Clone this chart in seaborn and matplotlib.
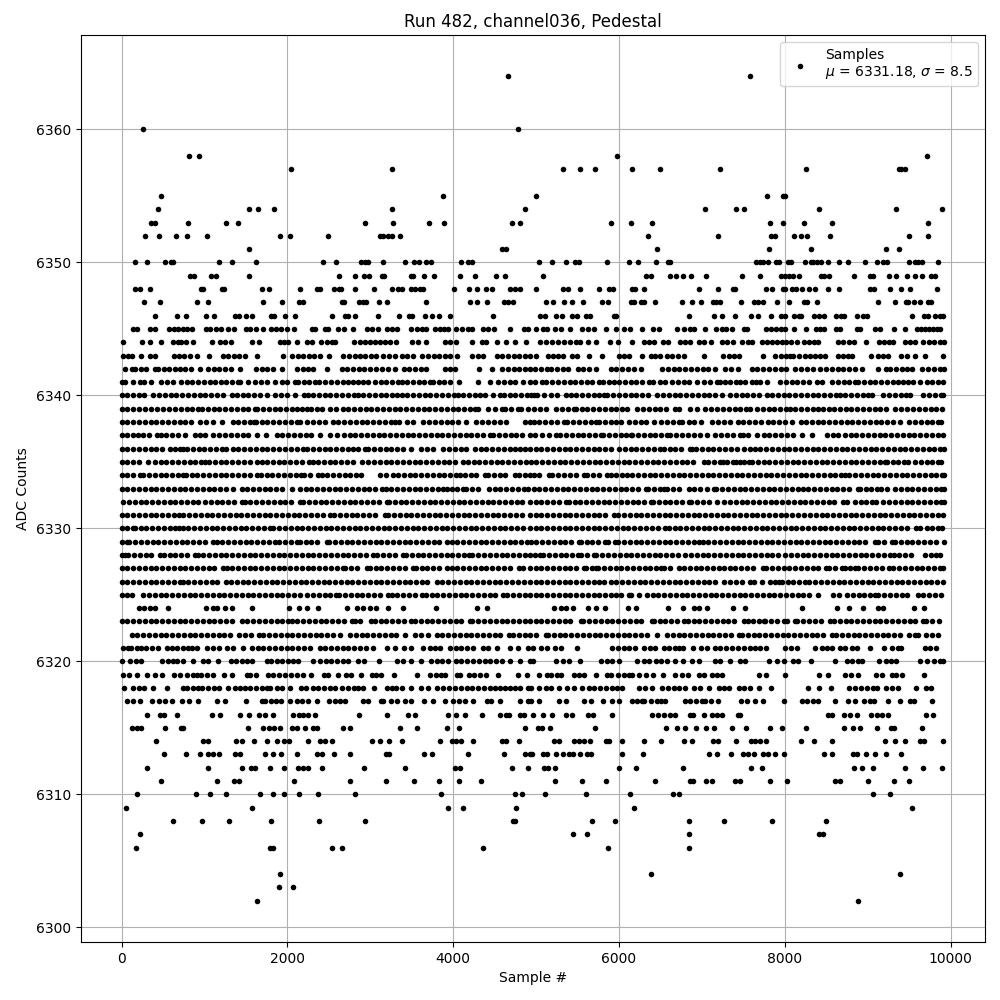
import matplotlib
matplotlib.use("Agg")
import matplotlib.pyplot as plt
import pandas as pd
import seaborn as sns

# sample numbers, one list per ADC level
s6364 = [4663, 7576]
s6360 = [261, 4784]
s6358 = [816, 937, 5976, 9717]
s6357 = [2046, 3264, 5326, 5531, 5711, 6156, 6493, 7215, 8262, 9376, 9408, 9445]
s6355 = [478, 3879, 5001, 7780, 7981, 8005]
s6354 = [442, 1540, 1648, 1841, 3264, 4868, 7035, 7408, 7504, 8418, 9348, 9898]
s6353 = [354, 406, 804, 1262, 1407, 2939, 3276, 3710, 3891, 4711, 4808, 5904, 6144, 6397, 7817, 7973, 8238, 8575, 9729]
s6352 = [285, 454, 659, 792, 1033, 1913, 2034, 2492, 3115, 3148, 3216, 3264, 3361, 6349, 7191, 7829, 7881, 8117, 8201, 8273, 8550, 9501, 9729]
s6351 = [1540, 4587, 4635, 6457, 7805, 8322, 9224, 9380]
s6350 = [165, 310, 527, 599, 623, 1178, 1335, 1624, 2432, 2589, 2890, 2939, 2975, 3156, 3421, 3530, 3590, 3674, 3735, 4096, 4181, 4229,
         5038, 5194, 5362, 5471, 5519, 5856, 6120, 6229, 6445, 6589, 6613, 7648, 7696, 7732, 7800, 7889, 7925, 8045, 8081, 8250, 8314, 8346, 8394, 8442, 8526, 8659, 8767, 8971, 9116, 9188, 9236, 9501, 9573, 9609, 9657, 9850]
s6349 = [824, 872, 1081, 1142, 1540, 2625, 2818, 2927, 2987, 3144, 3168, 3493, 3518, 3650, 3771, 4084, 4265, 4519, 4627,
         5086, 6325, 6385, 6613, 6686, 6770, 6866, 7047, 7480, 7696, 7949, 7997, 8057, 8105, 8177, 8442, 8478, 8538, 8839, 9032, 9068, 9260, 9348, 9477, 9573, 9661, 9765, 9814]
s6348 = [165, 225, 346, 961, 985, 1214, 1238, 1696, 1781, 2155, 2360, 2396, 2565, 2625, 2649, 2818, 3047, 3264, 3337, 3385, 3493, 3542, 3602, 3638, 4012, 4193, 4289, 4398, 4470, 4687, 4748, 4808,
         5001, 5326, 5386, 5531, 5759, 5880, 5928, 6156, 6192, 6301, 6962, 7191, 7371, 7395, 7768, 7841, 7973, 8009, 8093, 8141, 8214, 8298, 8370, 8526, 8659, 9032, 9080, 9272, 9404, 9513, 9838]
s6347 = [273, 466, 913, 1045, 1708, 1938, 2143, 2191, 2661, 2685, 2866, 2915, 2951, 3107, 3204, 3674, 4205, 4289, 4410, 4615, 4663, 4724,
         5122, 5206, 5338, 5435, 5567, 5796, 5868, 6144, 6180, 6265, 6301, 6433, 6758, 6878, 6986, 7131, 7167, 7215, 7468, 7624, 7672, 7732, 7901, 8057, 8238, 8274, 8394, 9128, 9332, 9465, 9489, 9561, 9633, 9729, 9765]
s6346 = [406, 671, 780, 1021, 1118, 1371, 1419, 1503, 1576, 1805, 1841, 1974, 2094, 2541, 2697, 2734, 2818, 3095, 3349, 3469, 3505, 3662, 3747, 3831, 3964, 4482,
         5050, 5110, 5242, 5314, 5435, 5495, 5603, 5651, 5940, 5964, 6842, 7143, 7239, 7395, 7588, 7672, 7829, 7949, 8009, 8117, 8177, 8201, 8358, 8418, 8478, 8622, 8683, 8719, 8875, 8947, 8995, 9537, 9681, 9729, 9814, 9874, 9910]
s6345 = [141, 189, 346, 406, 575, 635, 683, 744, 792, 852, 1021, 1069, 1142, 1202, 1286, 1359, 1503, 1552, 1624, 1708, 1805, 1865, 1926, 1990, 2082, 2300, 2336, 2456, 2492, 2613, 2685, 2794, 2963, 3023, 3095, 3204, 3264, 3325, 3489, 3566, 3626, 3674, 3783, 3843, 3891, 3940, 4036, 4108, 4181, 4229, 4362, 4422, 4494, 4687, 4856, 4904,
         5001, 5086, 5134, 5230, 5302, 5411, 5555, 5627, 5699, 5844, 5964, 6060, 6132, 6277, 6409, 6481, 6698, 6782, 6854, 6902, 7035, 7167, 7239, 7287, 7359, 7504, 7540, 7768, 7829, 7889, 7949, 8009, 8117, 8262, 8382, 8430, 8478, 8622, 8671, 8875, 8911, 9092, 9152, 9320, 9453, 9597, 9645, 9693, 9741, 9789, 9838, 9874]
s6344 = [16, 249, 342, 478, 623, 683, 720, 780, 864, 1093, 1190, 1250, 1323, 1576, 1660, 1913, 1962, 2010, 2118, 2239, 2300, 2408, 2480, 2541, 2577, 2806, 2878, 2939, 2999, 3059, 3120, 3180, 3240, 3313, 3505, 3578, 3674, 3903, 3964, 4036, 4229, 4350, 4398, 4531, 4639, 4748, 4880,
         5050, 5122, 5194, 5266, 5338, 5411, 5483, 5531, 5627, 5723, 5892, 5988, 6156, 6301, 6361, 6421, 6529, 6589, 6734, 6794, 6854, 6962, 7023, 7107, 7239, 7299, 7371, 7480, 7552, 7600, 7720, 7781, 7841, 7901, 7961, 8021, 8081, 8153, 8238, 8298, 8358, 8406, 8647, 8707, 8779, 8839, 8983, 9140, 9200, 9260, 9308, 9453, 9513, 9573, 9669, 9741, 9801, 9874, 9920]
s6343 = [16, 80, 130, 229, 342, 402, 631, 690, 750, 824, 905, 1057, 1218, 1280, 1350, 1420, 1487, 1636, 1942, 2050, 2131, 2191, 2260, 2325, 2392, 2505, 2673, 2740, 2810, 2875, 2940, 3010, 3075, 3150, 3225, 3296, 3377, 3440, 3510, 3618, 3698, 3765, 3830, 3900, 3960, 4048, 4233, 4300, 4362, 4523, 4590, 4660, 4730, 4800, 4870, 4925,
         4998, 5138, 5200, 5270, 5330, 5439, 5490, 5639, 5791, 6000, 6060, 6120, 6281, 6381, 6440, 6501, 6581, 6640, 6710, 6782, 7023, 7255, 7330, 7390, 7444, 7736, 7885, 7950, 8010, 8065, 8105, 8170, 8240, 8300, 8370, 8430, 8486, 8639, 8700, 8760, 8807, 9036, 9128, 9190, 9248, 9408, 9480, 9569, 9693, 9910]
s6342 = [40, 120, 160, 230, 300, 400, 440, 510, 575, 640, 700, 770, 840, 945, 1045, 1110, 1180, 1250, 1320, 1430, 1620, 1690, 1760, 1830, 1930, 2120, 2190, 2250, 2310, 2472, 2653, 2720, 2790, 2860, 2930, 3000, 3070, 3140, 3216, 3296, 3405, 3470, 3540, 3610, 3678, 3900, 3960, 4020, 4313, 4474, 4595, 4660, 4730, 4800, 4870, 4925,
         4990, 5060, 5130, 5178, 5250, 5320, 5390, 5500, 5570, 5640, 5720, 5900, 5970, 6040, 6110, 6180, 6260, 6520, 6590, 6660, 6730, 6800, 6870, 6940, 7010, 7080, 7160, 7283, 7350, 7430, 7604, 7670, 7740, 7810, 7880, 7950, 8020, 8125, 8193, 8270, 8345, 8426, 8500, 8570, 8647, 8707, 8780, 8850, 8928, 9128, 9220, 9268, 9340, 9410, 9470, 9530, 9661, 9730, 9800, 9870, 9920]
s6341 = [6, 40, 140, 220, 270, 360, 480, 550, 620, 715, 785, 855, 925, 995, 1065, 1125, 1195, 1265, 1335, 1410, 1430, 1530, 1610, 1680, 1750, 1850, 1930, 2000, 2090, 2130, 2200, 2265, 2330, 2385, 2455, 2525, 2595, 2665, 2734, 2786, 2850, 2915, 2975, 3055, 3125, 3195, 3265, 3337, 3377, 3445, 3515, 3585, 3650, 3719, 3759, 3830, 3895, 3960, 4072, 4300, 4441, 4543, 4610, 4680, 4744, 4845, 4925,
         4990, 5077, 5124, 5195, 5265, 5335, 5405, 5475, 5545, 5619, 5679, 5760, 5812, 5880, 5940, 6000, 6070, 6140, 6210, 6280, 6361, 6413, 6490, 6561, 6642, 6710, 6780, 6850, 6942, 7023, 7100, 7183, 7223, 7275, 7345, 7410, 7464, 7524, 7604, 7655, 7704, 7784, 7945, 8015, 8085, 8153, 8225, 8295, 8385, 8446, 8566, 8640, 8710, 8780, 8847, 8887, 8960, 9028, 9088, 9160, 9230, 9300, 9370, 9430, 9489, 9549, 9637, 9710, 9780, 9850, 9910]
s6340 = [6, 70, 140, 210, 270, 382, 450, 520, 590, 660, 730, 800, 870, 940, 1010, 1080, 1150, 1220, 1327, 1387, 1460, 1530, 1600, 1668, 1749, 1849, 1920, 1990, 2090, 2199, 2251, 2312, 2380, 2450, 2520, 2590, 2660, 2730, 2800, 2854, 2915, 2985, 3055, 3125, 3195, 3260, 3325, 3377, 3445, 3515, 3585, 3655, 3725, 3795, 3865, 3935, 4005, 4060, 4120, 4190, 4260, 4320, 4382, 4483, 4563, 4612, 4680, 4750, 4820, 4890,
         4937, 4977, 5017, 5090, 5178, 5258, 5359, 5420, 5479, 5559, 5630, 5700, 5760, 5820, 5860, 5932, 6000, 6070, 6140, 6210, 6280, 6350, 6461, 6533, 6600, 6670, 6740, 6810, 6880, 6950, 7020, 7090, 7160, 7243, 7343, 7410, 7480, 7550, 7620, 7690, 7784, 7845, 7915, 7985, 8055, 8125, 8195, 8265, 8335, 8405, 8475, 8545, 8615, 8667, 8727, 8800, 8870, 8940, 9010, 9048, 9188, 9260, 9330, 9400, 9460, 9509, 9669, 9740, 9810, 9880, 9915]
s6339 = [6, 70, 140, 210, 280, 350, 430, 503, 575, 645, 715, 785, 855, 917, 970, 1040, 1110, 1180, 1250, 1320, 1390, 1460, 1530, 1608, 1636, 1706, 1776, 1846, 1916, 1986, 2050, 2110, 2171, 2239, 2280, 2352, 2412, 2513, 2590, 2673, 2734, 2804, 2874, 2944, 3014, 3084, 3154, 3224, 3294, 3364, 3434, 3504, 3574, 3644, 3714, 3784, 3854, 3924, 3994, 4064, 4134, 4204, 4261, 4301, 4422, 4500, 4583, 4623, 4700, 4784, 4824, 4900,
         4977, 5050, 5118, 5238, 5310, 5380, 5459, 5479, 5550, 5620, 5690, 5760, 5830, 5900, 5970, 6040, 6100, 6221, 6290, 6360, 6430, 6500, 6570, 6682, 6722, 6854, 6942, 7043, 7115, 7185, 7255, 7325, 7395, 7465, 7530, 7584, 7664, 7735, 7805, 7875, 7945, 8010, 8065, 8125, 8195, 8265, 8335, 8406, 8466, 8530, 8594, 8667, 8735, 8805, 8875, 8945, 9015, 9085, 9155, 9220, 9328, 9408, 9480, 9550, 9620, 9690, 9760, 9830, 9902]
s6338 = [6, 70, 140, 210, 280, 350, 420, 490, 560, 630, 700, 770, 840, 945, 1017, 1105, 1206, 1339, 1410, 1480, 1550, 1596, 1620, 1690, 1760, 1830, 1900, 1970, 2040, 2110, 2150, 2239, 2310, 2380, 2450, 2545, 2613, 2685, 2755, 2825, 2895, 2965, 3035, 3105, 3175, 3245, 3296, 3349, 3445, 3517, 3638, 3710, 3780, 3850, 3920, 3990, 4060, 4160, 4281, 4350, 4420, 4490, 4560, 4643, 4864, 4925,
         4970, 5040, 5110, 5180, 5250, 5338, 5379, 5450, 5520, 5590, 5660, 5719, 5760, 5830, 5900, 5960, 6020, 6120, 6190, 6260, 6330, 6421, 6509, 6580, 6650, 6720, 6762, 6842, 6910, 6990, 7122, 7195, 7265, 7343, 7432, 7500, 7570, 7640, 7712, 7792, 7860, 7930, 8000, 8085, 8193, 8260, 8325, 8406, 8466, 8535, 8605, 8675, 8745, 8815, 8885, 8955, 9025, 9095, 9165, 9235, 9305, 9396, 9501, 9570, 9640, 9710, 9780, 9850, 9890]
s6337 = [6, 70, 140, 200, 262, 330, 422, 470, 540, 610, 680, 764, 884, 950, 1005, 1105, 1175, 1245, 1315, 1387, 1460, 1530, 1628, 1737, 1869, 1940, 2010, 2080, 2150, 2220, 2290, 2392, 2513, 2600, 2681, 2750, 2820, 2890, 2960, 3030, 3100, 3170, 3240, 3310, 3380, 3450, 3520, 3590, 3660, 3730, 3800, 3870, 3940, 4010, 4080, 4150, 4220, 4290, 4360, 4442, 4483, 4553, 4623, 4693, 4763, 4833, 4925,
         4990, 5077, 5158, 5238, 5291, 5360, 5430, 5500, 5570, 5640, 5710, 5788, 5812, 5880, 5950, 6020, 6090, 6140, 6160, 6230, 6300, 6370, 6440, 6510, 6581, 6621, 6690, 6760, 6830, 6900, 6982, 7063, 7163, 7235, 7305, 7375, 7464, 7492, 7560, 7664, 7744, 7815, 7885, 7955, 8025, 8095, 8205, 8326, 8514, 8580, 8647, 8727, 8795, 8865, 8935, 9005, 9075, 9145, 9215, 9285, 9355, 9425, 9495, 9565, 9635, 9705, 9775, 9845, 9915]
s6336 = [6, 70, 140, 210, 280, 350, 420, 490, 583, 643, 700, 744, 792, 860, 930, 1000, 1070, 1140, 1210, 1258, 1339, 1410, 1480, 1550, 1620, 1690, 1760, 1830, 1900, 1970, 2040, 2110, 2191, 2239, 2310, 2380, 2450, 2520, 2590, 2660, 2730, 2794, 2854, 2935, 2975, 3045, 3115, 3185, 3255, 3325, 3395, 3497, 3606, 3680, 3759, 3879, 3950, 4020, 4090, 4160, 4261, 4333, 4400, 4470, 4540, 4610, 4680, 4750, 4804, 4864, 4925,
         4995, 5065, 5135, 5205, 5275, 5345, 5415, 5485, 5555, 5625, 5695, 5765, 5835, 5900, 6000, 6070, 6140, 6210, 6280, 6350, 6420, 6493, 6541, 6610, 6680, 6750, 6862, 6882, 6934, 7000, 7070, 7140, 7210, 7280, 7350, 7424, 7504, 7575, 7644, 7704, 7775, 7845, 7915, 7985, 8055, 8125, 8195, 8265, 8335, 8405, 8475, 8545, 8615, 8685, 8755, 8825, 8895, 8965, 9035, 9105, 9175, 9245, 9315, 9385, 9455, 9525, 9595, 9665, 9735, 9805, 9875, 9920]
s6335 = [6, 70, 140, 210, 322, 402, 470, 540, 610, 680, 750, 820, 890, 960, 1005, 1057, 1125, 1195, 1265, 1335, 1405, 1475, 1545, 1628, 1688, 1755, 1825, 1895, 1965, 2035, 2105, 2175, 2263, 2304, 2370, 2440, 2510, 2580, 2650, 2720, 2794, 2906, 2975, 3045, 3115, 3185, 3255, 3325, 3395, 3465, 3535, 3605, 3675, 3745, 3815, 3885, 3955, 4025, 4120, 4181, 4249, 4315, 4385, 4455, 4525, 4595, 4665, 4735, 4805, 4875,
         4937, 5005, 5075, 5145, 5215, 5285, 5355, 5425, 5495, 5565, 5635, 5705, 5775, 5845, 5915, 5985, 6055, 6125, 6195, 6265, 6335, 6405, 6475, 6545, 6615, 6685, 6755, 6825, 6895, 7023, 7075, 7150, 7215, 7255, 7303, 7370, 7416, 7456, 7510, 7564, 7604, 7675, 7745, 7815, 7885, 7955, 8025, 8095, 8165, 8235, 8305, 8375, 8445, 8515, 8585, 8655, 8725, 8795, 8865, 8935, 9005, 9075, 9145, 9208, 9228, 9300, 9370, 9440, 9489, 9569, 9640, 9710, 9780, 9850, 9890]
s6334 = [6, 70, 140, 221, 261, 330, 400, 470, 540, 610, 680, 744, 776, 845, 915, 985, 1055, 1125, 1195, 1265, 1335, 1405, 1475, 1545, 1628, 1680, 1750, 1820, 1890, 1960, 2030, 2100, 2159, 2199, 2270, 2372, 2412, 2480, 2550, 2620, 2690, 2760, 2830, 2894, 3115, 3190, 3276, 3337, 3405, 3475, 3545, 3615, 3685, 3755, 3825, 3895, 3965, 4035, 4088, 4140, 4210, 4280, 4382, 4422, 4490, 4560, 4630, 4744, 4796, 4865, 4925,
         4970, 5040, 5158, 5198, 5270, 5340, 5410, 5480, 5579, 5619, 5690, 5760, 5852, 5900, 5970, 6040, 6100, 6160, 6230, 6300, 6370, 6440, 6510, 6580, 6650, 6720, 6790, 6860, 6930, 7000, 7070, 7140, 7210, 7280, 7350, 7420, 7490, 7560, 7630, 7700, 7770, 7840, 7910, 7980, 8050, 8120, 8190, 8260, 8330, 8400, 8470, 8540, 8610, 8680, 8727, 8779, 8850, 8920, 8990, 9060, 9130, 9200, 9270, 9340, 9410, 9480, 9550, 9620, 9690, 9760, 9830, 9900, 9920]
s6333 = [6, 70, 140, 210, 280, 350, 420, 490, 560, 630, 700, 770, 840, 910, 980, 1050, 1120, 1190, 1260, 1347, 1447, 1515, 1585, 1655, 1725, 1795, 1865, 1935, 2050, 2151, 2220, 2290, 2360, 2430, 2500, 2570, 2640, 2710, 2780, 2850, 2920, 2990, 3060, 3136, 3188, 3255, 3325, 3395, 3465, 3535, 3605, 3675, 3745, 3815, 3879, 3920, 3980, 4050, 4120, 4160, 4233, 4301, 4434, 4500, 4570, 4640, 4710, 4780, 4850, 4900,
         4970, 5040, 5110, 5180, 5250, 5320, 5390, 5460, 5530, 5600, 5670, 5740, 5810, 5880, 5950, 6020, 6090, 6160, 6230, 6321, 6349, 6420, 6490, 6541, 6581, 6650, 6722, 6842, 6910, 6980, 7060, 7143, 7175, 7245, 7315, 7385, 7455, 7525, 7595, 7665, 7735, 7805, 7875, 7945, 8015, 8085, 8155, 8225, 8286, 8355, 8425, 8495, 8565, 8635, 8705, 8775, 8887, 8907, 8975, 9045, 9108, 9156, 9228, 9328, 9400, 9470, 9540, 9610, 9680, 9750, 9820, 9890, 9920]
s6332 = [20, 90, 160, 230, 300, 370, 440, 510, 580, 650, 720, 790, 860, 924, 1005, 1075, 1145, 1215, 1285, 1355, 1447, 1487, 1555, 1625, 1695, 1765, 1835, 1905, 1975, 2045, 2151, 2191, 2260, 2330, 2400, 2470, 2540, 2610, 2680, 2750, 2820, 2890, 2960, 3030, 3100, 3196, 3228, 3295, 3365, 3435, 3505, 3575, 3645, 3715, 3785, 3855, 3925, 3995, 4065, 4135, 4205, 4275, 4345, 4415, 4485, 4555, 4625, 4695, 4765, 4835, 4925,
         4995, 5065, 5135, 5205, 5275, 5358, 5398, 5465, 5535, 5605, 5675, 5745, 5815, 5885, 5955, 6025, 6095, 6165, 6235, 6305, 6381, 6413, 6480, 6550, 6620, 6690, 6760, 6842, 6874, 6945, 7015, 7085, 7183, 7271, 7340, 7410, 7480, 7550, 7620, 7690, 7760, 7830, 7900, 7970, 8040, 8110, 8180, 8250, 8320, 8390, 8460, 8530, 8600, 8707, 8747, 8847, 8915, 8985, 9055, 9100, 9188, 9260, 9330, 9400, 9470, 9540, 9610, 9680, 9750, 9820, 9890, 9920]
s6331 = [6, 70, 140, 210, 280, 350, 420, 490, 560, 630, 695, 744, 815, 885, 955, 1025, 1095, 1165, 1235, 1305, 1375, 1445, 1515, 1585, 1655, 1725, 1795, 1865, 1935, 2005, 2075, 2145, 2215, 2285, 2355, 2425, 2513, 2565, 2635, 2705, 2775, 2845, 2915, 2985, 3055, 3176, 3216, 3285, 3355, 3425, 3495, 3565, 3635, 3705, 3775, 3845, 3915, 3985, 4055, 4125, 4195, 4265, 4335, 4405, 4475, 4545, 4615, 4685, 4755, 4825, 4925,
         4995, 5065, 5135, 5205, 5275, 5345, 5415, 5485, 5555, 5625, 5695, 5765, 5835, 5940, 5988, 6060, 6130, 6200, 6270, 6340, 6410, 6480, 6550, 6620, 6690, 6760, 6830, 6900, 6970, 7040, 7110, 7180, 7250, 7320, 7390, 7460, 7530, 7600, 7670, 7740, 7810, 7880, 7950, 8020, 8090, 8160, 8230, 8306, 8378, 8445, 8515, 8585, 8655, 8725, 8795, 8865, 8935, 9005, 9075, 9145, 9215, 9285, 9355, 9425, 9495, 9565, 9635, 9705, 9775, 9845, 9915]
s6330 = [6, 70, 133, 161, 230, 300, 370, 440, 510, 580, 650, 695, 736, 805, 875, 945, 1015, 1085, 1155, 1225, 1295, 1365, 1435, 1505, 1575, 1645, 1715, 1789, 1829, 1900, 1970, 2040, 2110, 2180, 2250, 2320, 2390, 2460, 2530, 2600, 2670, 2740, 2810, 2880, 2950, 3020, 3090, 3160, 3230, 3300, 3370, 3440, 3510, 3580, 3650, 3720, 3790, 3860, 3930, 4000, 4070, 4140, 4210, 4280, 4350, 4420, 4490, 4560, 4630, 4700, 4770, 4840, 4925,
         4995, 5065, 5135, 5205, 5275, 5345, 5415, 5485, 5555, 5625, 5695, 5765, 5835, 5905, 5975, 6045, 6115, 6185, 6255, 6325, 6395, 6465, 6561, 6601, 6670, 6740, 6810, 6880, 6950, 7020, 7090, 7160, 7230, 7300, 7370, 7440, 7510, 7580, 7650, 7720, 7790, 7860, 7930, 8000, 8070, 8140, 8210, 8280, 8350, 8420, 8490, 8560, 8630, 8700, 8770, 8840, 8910, 8980, 9050, 9120, 9190, 9260, 9330, 9400, 9470, 9581, 9637, 9710, 9780, 9850, 9902]
s6329 = [6, 60, 92, 165, 235, 305, 375, 445, 515, 585, 655, 725, 795, 865, 935, 1005, 1105, 1146, 1215, 1285, 1355, 1425, 1495, 1565, 1635, 1705, 1775, 1849, 1901, 1970, 2040, 2110, 2151, 2220, 2290, 2360, 2472, 2505, 2575, 2645, 2715, 2785, 2855, 2925, 2995, 3065, 3135, 3205, 3275, 3345, 3415, 3485, 3555, 3625, 3695, 3765, 3835, 3920, 3980, 4050, 4120, 4190, 4260, 4330, 4400, 4470, 4540, 4610, 4680, 4750, 4820, 4890,
         4937, 5005, 5075, 5145, 5215, 5285, 5355, 5425, 5519, 5539, 5610, 5680, 5750, 5828, 5868, 5948, 5988, 6060, 6130, 6200, 6270, 6340, 6410, 6480, 6550, 6620, 6690, 6760, 6830, 6900, 6962, 7011, 7080, 7150, 7220, 7290, 7360, 7430, 7500, 7570, 7640, 7710, 7780, 7850, 7920, 7990, 8060, 8130, 8200, 8270, 8340, 8410, 8480, 8550, 8620, 8690, 8760, 8830, 8900, 8970, 9088, 9128, 9200, 9288, 9328, 9400, 9470, 9540, 9610, 9680, 9750, 9820, 9920]
s6328 = [6, 40, 80, 150, 220, 290, 360, 462, 510, 580, 650, 720, 790, 884, 916, 985, 1055, 1125, 1195, 1265, 1335, 1405, 1475, 1545, 1615, 1685, 1755, 1825, 1895, 1965, 2035, 2105, 2175, 2245, 2315, 2385, 2455, 2525, 2595, 2665, 2735, 2805, 2875, 2945, 3035, 3083, 3155, 3225, 3295, 3397, 3429, 3500, 3570, 3640, 3710, 3780, 3850, 3920, 3990, 4060, 4130, 4193, 4233, 4305, 4375, 4445, 4515, 4585, 4655, 4725, 4795, 4865, 4925,
         4990, 5050, 5086, 5155, 5225, 5295, 5365, 5435, 5507, 5547, 5620, 5699, 5728, 5800, 5870, 5940, 6010, 6080, 6150, 6220, 6290, 6360, 6430, 6500, 6570, 6640, 6710, 6802, 6870, 6940, 7010, 7080, 7150, 7220, 7290, 7360, 7430, 7500, 7570, 7640, 7710, 7780, 7850, 7920, 8005, 8073, 8145, 8215, 8285, 8355, 8425, 8495, 8565, 8635, 8705, 8775, 8845, 8915, 8985, 9055, 9125, 9195, 9265, 9316, 9380, 9450, 9517, 9689, 9760, 9822, 9878]
s6327 = [6, 70, 140, 210, 280, 350, 420, 490, 560, 630, 700, 770, 840, 910, 980, 1050, 1120, 1226, 1266, 1335, 1405, 1475, 1545, 1615, 1685, 1755, 1825, 1895, 1965, 2035, 2105, 2175, 2245, 2315, 2385, 2455, 2525, 2595, 2665, 2693, 2765, 2835, 2955, 2995, 3065, 3135, 3205, 3275, 3345, 3415, 3517, 3550, 3620, 3690, 3760, 3830, 3920, 3980, 4050, 4120, 4190, 4260, 4330, 4400, 4470, 4540, 4610, 4680, 4796, 4844, 4925,
         4995, 5065, 5135, 5205, 5275, 5345, 5415, 5485, 5579, 5607, 5680, 5719, 5748, 5820, 5890, 5960, 6030, 6100, 6170, 6240, 6310, 6380, 6450, 6509, 6541, 6610, 6722, 6782, 6855, 6925, 6995, 7065, 7135, 7205, 7271, 7335, 7405, 7475, 7545, 7615, 7736, 7776, 7845, 7915, 7985, 8055, 8125, 8195, 8265, 8335, 8405, 8498, 8538, 8610, 8687, 8727, 8790, 8847, 8887, 8960, 9030, 9100, 9170, 9260, 9308, 9380, 9450, 9520, 9590, 9660, 9730, 9800, 9870, 9915]
s6326 = [6, 70, 140, 210, 280, 350, 420, 490, 560, 630, 703, 736, 805, 875, 945, 1015, 1085, 1155, 1258, 1319, 1390, 1460, 1530, 1600, 1670, 1740, 1810, 1880, 1950, 2020, 2090, 2160, 2230, 2300, 2370, 2440, 2505, 2573, 2645, 2715, 2785, 2855, 2925, 2995, 3065, 3135, 3205, 3275, 3345, 3415, 3485, 3555, 3625, 3686, 3799, 3870, 3940, 4010, 4080, 4150, 4220, 4290, 4360, 4430, 4500, 4570, 4640, 4710, 4780, 4850, 4925,
         4995, 5065, 5135, 5205, 5275, 5345, 5415, 5485, 5555, 5625, 5695, 5765, 5820, 5900, 5970, 6040, 6110, 6180, 6250, 6320, 6390, 6460, 6530, 6600, 6670, 6740, 6810, 6880, 6950, 7020, 7090, 7163, 7271, 7340, 7410, 7480, 7584, 7632, 7724, 7825, 7880, 7925, 7965, 8035, 8105, 8175, 8245, 8298, 8370, 8440, 8510, 8580, 8650, 8720, 8790, 8860, 8930, 9000, 9070, 9140, 9210, 9280, 9350, 9420, 9490, 9560, 9630, 9700, 9770, 9840, 9915]
s6325 = [6, 60, 120, 261, 330, 400, 470, 540, 610, 680, 750, 820, 890, 960, 1030, 1100, 1170, 1240, 1310, 1380, 1450, 1520, 1590, 1660, 1730, 1800, 1870, 1940, 2010, 2080, 2151, 2239, 2310, 2380, 2450, 2520, 2585, 2625, 2695, 2765, 2835, 2905, 2975, 3045, 3115, 3216, 3257, 3325, 3395, 3465, 3535, 3618, 3670, 3740, 3810, 3880, 3950, 4020, 4090, 4160, 4230, 4300, 4370, 4440, 4510, 4603, 4652, 4725, 4795, 4865, 4925,
         4995, 5065, 5135, 5205, 5275, 5345, 5415, 5485, 5555, 5625, 5695, 5765, 5835, 5900, 5960, 6030, 6120, 6140, 6241, 6333, 6405, 6475, 6545, 6615, 6685, 6755, 6825, 6895, 6965, 7035, 7105, 7175, 7245, 7315, 7385, 7455, 7525, 7595, 7665, 7735, 7805, 7875, 7945, 8015, 8085, 8155, 8225, 8295, 8406, 8586, 8660, 8747, 8819, 8890, 8960, 9030, 9088, 9128, 9200, 9270, 9340, 9410, 9480, 9609, 9669, 9740, 9810, 9890]
s6324 = [213, 275, 340, 400, 555, 1017, 1100, 1154, 1250, 1330, 1568, 2022, 2143, 2239, 2372, 2722, 2834, 2915, 2995, 3075, 3216, 3397, 3791, 4289, 4410,
         5218, 5298, 5366, 5447, 5627, 5723, 5832, 6108, 6209, 6589, 6770, 6902, 6962, 7063, 7371, 7516, 8213, 8635, 8779, 8947, 9128, 9188, 9561, 9681]
s6323 = [6, 70, 140, 210, 280, 350, 420, 490, 560, 630, 700, 770, 840, 910, 980, 1050, 1120, 1190, 1260, 1330, 1447, 1508, 1588, 1660, 1730, 1800, 1870, 1940, 2010, 2050, 2120, 2190, 2260, 2330, 2400, 2470, 2540, 2610, 2680, 2774, 2814, 2882, 3003, 3055, 3125, 3195, 3265, 3335, 3405, 3497, 3538, 3610, 3680, 3750, 3820, 3890, 3960, 4030, 4100, 4201, 4233, 4305, 4375, 4445, 4515, 4585, 4655, 4725, 4795, 4865, 4925,
         4995, 5065, 5135, 5205, 5275, 5345, 5415, 5539, 5571, 5640, 5710, 5780, 5850, 5920, 5990, 6060, 6130, 6200, 6270, 6401, 6421, 6490, 6560, 6630, 6700, 6790, 6830, 6900, 6970, 7040, 7110, 7180, 7250, 7320, 7390, 7504, 7552, 7620, 7690, 7744, 7764, 7835, 7905, 7985, 8033, 8125, 8153, 8225, 8295, 8365, 8435, 8546, 8595, 8665, 8735, 8805, 8875, 8945, 9015, 9085, 9155, 9225, 9295, 9365, 9435, 9505, 9575, 9669, 9709, 9780, 9862]
s6322 = [120, 190, 260, 330, 400, 470, 540, 610, 680, 750, 820, 890, 960, 1030, 1100, 1170, 1240, 1307, 1419, 1490, 1560, 1660, 1708, 1780, 1850, 1920, 1990, 2060, 2130, 2200, 2270, 2340, 2410, 2480, 2550, 2633, 2754, 2825, 2895, 2965, 3035, 3105, 3175, 3245, 3315, 3417, 3538, 3610, 3698, 3799, 3870, 3940, 4010, 4080, 4150, 4220, 4290, 4360, 4430, 4500, 4570, 4675, 4724, 4795, 4865, 4925,
         4995, 5118, 5146, 5215, 5285, 5355, 5425, 5495, 5565, 5635, 5705, 5775, 5845, 5915, 5985, 6055, 6125, 6195, 6265, 6341, 6453, 6581, 6650, 6720, 6790, 6860, 6930, 7000, 7070, 7140, 7210, 7280, 7350, 7444, 7484, 7555, 7625, 7695, 7765, 7835, 7905, 7975, 8045, 8115, 8185, 8255, 8325, 8395, 8465, 8566, 8619, 8690, 8760, 8830, 8900, 8970, 9040, 9110, 9180, 9250, 9320, 9396, 9501, 9570, 9609, 9709, 9780, 9850]
s6321 = [20, 80, 110, 180, 240, 300, 362, 443, 543, 603, 670, 740, 804, 844, 915, 1025, 1105, 1180, 1266, 1347, 1459, 1568, 1640, 1710, 1780, 1850, 1920, 1990, 2060, 2130, 2200, 2270, 2392, 2452, 2525, 2595, 2665, 2735, 2805, 2874, 2946, 3035, 3204, 3297, 3405, 3497, 3638, 3719, 3785, 3847, 3960, 4030, 4100, 4170, 4240, 4362, 4422, 4523, 4691, 4784, 4905,
         4957, 5057, 5130, 5226, 5306, 5499, 5920, 5990, 6060, 6120, 6188, 6301, 6370, 6440, 6541, 6601, 6670, 6722, 6770, 6890, 6990, 7063, 7163, 7223, 7295, 7365, 7435, 7505, 7575, 7640, 7696, 7768, 8005, 8075, 8145, 8370, 8446, 8510, 8566, 8667, 8727, 8807, 8867, 9028, 9196, 9288, 9368, 9408, 9689, 9750, 9822]
s6320 = [8, 100, 173, 237, 490, 555, 615, 671, 744, 864, 977, 1045, 1166, 1314, 1380, 1450, 1510, 1568, 1749, 1797, 1869, 1940, 2010, 2070, 2131, 2312, 2392, 2460, 2530, 2600, 2670, 2734, 2854, 2926, 3107, 3325, 3395, 3497, 3606, 3738, 3799, 3868, 3940, 4040, 4100, 4170, 4240, 4310, 4380, 4450, 4520, 4590, 4683, 4812, 4925,
         4969, 5242, 5326, 5398, 5531, 5783, 5850, 5920, 6000, 6221, 6301, 6361, 6441, 6510, 6580, 6670, 6770, 6882, 6962, 7163, 7223, 7335, 7456, 7524, 7805, 7905, 7985, 8105, 8165, 8322, 8611, 8747, 8810, 8880, 8927, 9140, 9220, 9285, 9348, 9637, 9717, 9801, 9870, 9910]
s6319 = [20, 90, 189, 302, 402, 482, 631, 703, 784, 864, 915, 957, 1025, 1105, 1234, 1326, 1507, 1548, 1624, 1769, 1829, 1900, 1970, 2040, 2110, 2191, 2287, 2440, 2492, 2609, 2706, 2770, 2894, 3019, 3071, 3131, 3289, 3566, 3719, 3790, 3859, 3903, 4048, 4088, 4185, 4250, 4322, 4390, 4543, 4784, 4885,
         5038, 5130, 5186, 5250, 5306, 5459, 5520, 5579, 5719, 5860, 5900, 5988, 6060, 6120, 6160, 6241, 6321, 6413, 6529, 6682, 6762, 6830, 6962, 7023, 7123, 7185, 7243, 7684, 7768, 8009, 8418, 8526, 8727, 8800, 8887, 9100, 9170, 9288, 9348, 9420, 9677]
s6318 = [32, 141, 205, 269, 382, 543, 744, 792, 856, 916, 965, 1045, 1110, 1180, 1282, 1367, 1427, 1487, 1555, 1625, 1695, 1749, 1789, 1869, 1930, 2030, 2163, 2230, 2312, 2372, 2440, 2510, 2580, 2653, 2734, 2800, 2854, 2915, 3043, 3196, 3257, 3309, 3377, 3497, 3606, 3698, 3799, 3879, 3950, 4020, 4100, 4161, 4230, 4300, 4370, 4440, 4500, 4563, 4623, 4683, 4744, 4812, 4905,
         4937, 5030, 5118, 5186, 5280, 5370, 5459, 5550, 5639, 5699, 5770, 5840, 5910, 5980, 6040, 6241, 6320, 6401, 6521, 6590, 6660, 6730, 6800, 6902, 6982, 7083, 7203, 7265, 7323, 7444, 7510, 7580, 7684, 7837, 8286, 8418, 8558, 8779, 8850, 8920, 8990, 9060, 9108, 9220, 9290, 9368, 9581, 9709, 9769]
s6317 = [68, 140, 221, 370, 454, 527, 611, 732, 816, 925, 1154, 1250, 1503, 1696, 1729, 1805, 1860, 1918, 2034, 2110, 2180, 2250, 2360, 2505, 2570, 2633, 2698, 2914, 2975, 3124, 3156, 3256, 3325, 3417, 3493, 3650, 3759, 3900, 4000, 4070, 4140, 4241, 4410, 4462, 4563, 4812, 4905,
         4937, 5038, 5278, 5362, 5579, 5659, 5808, 5920, 6000, 6160, 6220, 6281, 6301, 6381, 6453, 6509, 6561, 6794, 6862, 6930, 7000, 7043, 7107, 7191, 7472, 7540, 7644, 7732, 7985, 8205, 8270, 8340, 8406, 8607, 8767, 8847, 8959, 9028, 9080, 9248, 9392, 9509, 9557, 9777]
s6316 = [310, 462, 511, 671, 1093, 1186, 1431, 1540, 1660, 1729, 1829, 2070, 2135, 2190, 2251, 2332, 2866, 3204, 3457, 3538, 3940, 4040, 4145, 4350, 4567, 4643, 4675, 4804, 4853,
         4961, 5086, 5194, 5362, 5435, 5627, 5687, 5920, 6401, 6470, 6540, 6610, 6682, 6854, 6890, 7023, 7119, 7180, 7239, 7432, 7464, 8526, 8566, 8719, 8791, 8875, 9044, 9116, 9168, 9248, 9705, 9789]
s6315 = [129, 189, 237, 527, 716, 744, 1528, 1709, 1781, 1841, 1914, 2058, 2118, 2215, 2312, 2360, 2673, 2758, 3361, 3566, 3928, 4072, 4868,
         5018, 5066, 5170, 5711, 6565, 6698, 6794, 6926, 7047, 7143, 7359, 7528, 7817, 7961, 8262, 8719, 8827, 8911, 9116, 9276, 9320, 9657]
s6314 = [418, 985, 1045, 1383, 1455, 1600, 1757, 1877, 1962, 2022, 2251, 2396, 2452, 2541, 3023, 3120, 3228, 3385, 3843, 3988, 4040, 4100, 4241, 4591, 4643, 4796,
         5218, 5278, 5459, 5519, 5579, 5651, 5840, 5880, 6036, 6301, 6505, 6782, 6878, 7131, 7191, 7408, 7592, 7644, 7696, 7768, 8201, 8358, 8575, 9212, 9332, 9449, 9629, 9685, 9910]
s6313 = [515, 780, 949, 1045, 1105, 1178, 1371, 1431, 1733, 1829, 1922, 2118, 2360, 2420, 2565, 2758, 3192, 3228, 3650, 3747, 4181, 4615, 4868, 4925,
         4953, 5086, 5130, 5242, 5326, 5398, 5447, 5531, 5615, 5663, 6036, 6289, 7083, 7179, 7347, 7492, 7552, 7624, 7732, 7792, 7877, 7985, 8478, 8575, 8827, 8875, 8983, 9084, 9224, 9404]
s6312 = [310, 1045, 1455, 1564, 1612, 1793, 1962, 2131, 2191, 2251, 2420, 2927, 3421, 4024, 4084, 4711, 4905,
         5098, 5146, 5230, 6000, 6205, 6770, 7588, 7720, 8839, 8935, 9068, 9453, 9669, 9902]
s6311 = [478, 1154, 1359, 1419, 2082, 2758, 3192, 3530, 3831, 4072, 4338, 5230, 5555, 5844, 6433, 6854, 6890, 7047, 7119, 7395, 7456, 7817, 8033, 8611, 8671, 9008, 9320, 9501]
s6310 = [189, 900, 1069, 1262, 1672, 1829, 1962, 2143, 2372, 2818, 3855, 4748, 4836, 5110, 5603, 6132, 6650, 6722, 9068, 9272]
s6309 = [56, 1576, 3940, 4120, 4760, 6180, 9537]
s6308 = [623, 973, 1298, 1805, 2384, 2939, 4724, 4748, 5675, 5952, 6842, 7263, 7841, 8502]
s6307 = [225, 5447, 5615, 6842, 8418, 8466]
s6306 = [177, 1793, 1829, 2541, 2661, 4362, 5868, 6842]
s6304 = [1914, 6385, 9392]
s6303 = [1901, 2070]
s6302 = [1636, 8887]

levels = [6364, 6360, 6358, 6357, 6355, 6354, 6353, 6352, 6351, 6350, 6349, 6348, 6347, 6346, 6345, 6344,
          6343, 6342, 6341, 6340, 6339, 6338, 6337, 6336, 6335, 6334, 6333, 6332, 6331, 6330, 6329, 6328,
          6327, 6326, 6325, 6324, 6323, 6322, 6321, 6320, 6319, 6318, 6317, 6316, 6315, 6314, 6313, 6312,
          6311, 6310, 6309, 6308, 6307, 6306, 6304, 6303, 6302]
rows = [s6364, s6360, s6358, s6357, s6355, s6354, s6353, s6352, s6351, s6350, s6349, s6348, s6347, s6346, s6345, s6344,
        s6343, s6342, s6341, s6340, s6339, s6338, s6337, s6336, s6335, s6334, s6333, s6332, s6331, s6330, s6329, s6328,
        s6327, s6326, s6325, s6324, s6323, s6322, s6321, s6320, s6319, s6318, s6317, s6316, s6315, s6314, s6313, s6312,
        s6311, s6310, s6309, s6308, s6307, s6306, s6304, s6303, s6302]

df = pd.DataFrame(
    [(x, lev) for lev, row in zip(levels, rows) for x in row],
    columns=["sample", "adc"],
)

fig, ax = plt.subplots(figsize=(10, 10))
sns.scatterplot(
    data=df,
    x="sample",
    y="adc",
    color="k",
    marker="o",
    s=16,
    edgecolor="k",
    linewidth=0,
    zorder=2,
    label="Samples\n$\\mu$ = 6331.18, $\\sigma$ = 8.5",
    ax=ax,
)
ax.grid(True)
ax.set_xlabel("Sample #")
ax.set_ylabel("ADC Counts")
ax.set_title("Run 482, channel036, Pedestal")
ax.legend(loc="upper right")
fig.subplots_adjust(left=0.081, right=0.985, top=0.965, bottom=0.058)
plt.savefig("out.png", dpi=100)
